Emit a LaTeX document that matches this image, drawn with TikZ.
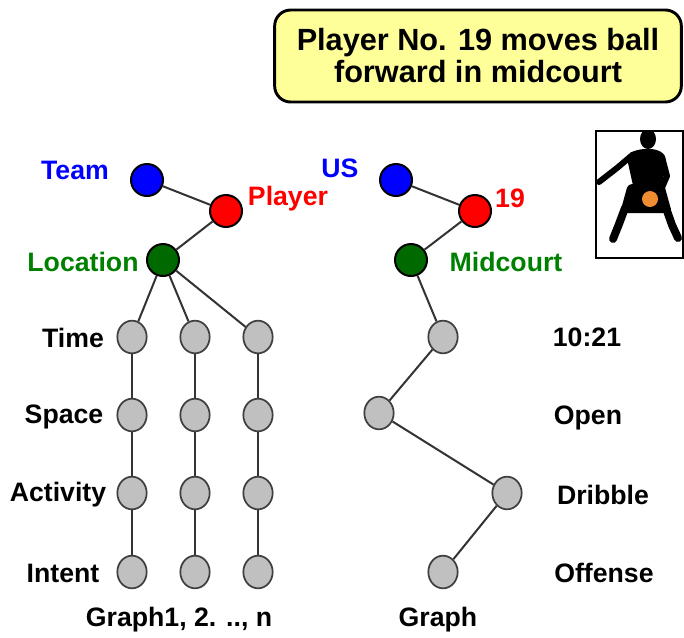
\documentclass[tikz,border=0pt]{standalone}
\usepackage{xcolor}
\usepackage{fontspec}
\setmainfont{Liberation Sans}
\usepackage{tikz}
\usetikzlibrary{positioning, shapes.geometric}

\definecolor{teamblue}{RGB}{0,0,255}
\definecolor{playerred}{RGB}{255,0,0}
\definecolor{locgreen}{RGB}{0,105,0}
\definecolor{loctext}{RGB}{0,128,0}
\definecolor{stategray}{RGB}{192,192,192}
\definecolor{notefill}{RGB}{255,255,153}
\definecolor{ballorange}{RGB}{240,140,50}

\begin{document}
\begin{tikzpicture}[
    x=0.75pt, y=-0.75pt,
    dot/.style={circle, draw=black, line width=1.5pt, minimum size=24pt, inner sep=0pt},
    teamdot/.style={dot, fill=teamblue},
    playerdot/.style={dot, fill=playerred},
    locdot/.style={dot, fill=locgreen},
    state/.style={ellipse, draw=black!75, line width=1.3pt, fill=stategray, minimum width=22pt, minimum height=24.5pt, inner sep=0pt},
    link/.style={draw=black!80, line width=1.5pt},
    lbl/.style={font=\bfseries\fontsize{20}{24}\selectfont, inner sep=0pt},
    note/.style={rectangle, draw=black, line width=2.2pt, rounded corners=12pt, fill=notefill, align=center, font=\bfseries\fontsize{23}{24}\selectfont},
    limb/.style={black, line cap=round, line join=round}
]
\useasboundingbox (0,0) rectangle (684,637);

% caption box
\node[note, minimum width=305pt, minimum height=69pt] (caption) at (478,56) {Player No. 19 moves ball\\forward in midcourt};

% generic graph (left)
\node[teamdot] (teamL) at (147,180) {};
\node[playerdot] (playerL) at (226,211) {};
\node[locdot] (locL) at (163,260) {};
\foreach \c/\x in {1/132,2/195,3/258}
  \foreach \r/\y in {t/337,s/415,a/493,i/572}
    \node[state] (g\c\r) at (\x,\y) {};

\draw[link] (teamL) -- (playerL);
\draw[link] (playerL) -- (locL);
\foreach \c in {1,2,3} {
  \draw[link] (locL) -- (g\c t);
  \draw[link] (g\c t) -- (g\c s);
  \draw[link] (g\c s) -- (g\c a);
  \draw[link] (g\c a) -- (g\c i);
}

\node[lbl, teamblue] (lteam) at (75,170) {Team};
\node[lbl, playerred] (lplayer) at (288,199) {Player};
\node[lbl, loctext] (lloc) at (83,262) {Location};
\node[lbl] (ltime) at (73,338) {Time};
\node[lbl] (lspace) at (64,417) {Space};
\node[lbl] (lact) at (58,495) {Activity};
\node[lbl] (lintent) at (63,573) {Intent};
\node[lbl] (lgraphs) at (179,620) {Graph1, 2. .., n};

% instance graph (right)
\node[teamdot] (usR) at (396,180) {};
\node[playerdot] (numR) at (475,211) {};
\node[locdot] (midR) at (411,260) {};
\node[state] (timeR) at (443,337) {};
\node[state] (spaceR) at (379,413) {};
\node[state] (actR) at (507,493) {};
\node[state] (intR) at (443,572) {};

\draw[link] (usR) -- (numR);
\draw[link] (numR) -- (midR);
\draw[link] (midR) -- (timeR);
\draw[link] (timeR) -- (spaceR);
\draw[link] (spaceR) -- (actR);
\draw[link] (actR) -- (intR);

\node[lbl, teamblue] (lus) at (340,168) {US};
\node[lbl, playerred] (lnum) at (510,198) {19};
\node[lbl, loctext] (lmid) at (506,262) {Midcourt};
\node[lbl] (vtime) at (587,337) {10:21};
\node[lbl] (vspace) at (588,418) {Open};
\node[lbl] (vact) at (603,495) {Dribble};
\node[lbl] (vintent) at (604,573) {Offense};
\node[lbl] (lgraph) at (438,620) {Graph};

% dribbling player icon
\begin{scope}
  \clip (596,131) rectangle (683,258);
  \fill[black] (648,139) ellipse (8 and 10);
  \fill[limb, rounded corners=4pt] (626,154) -- (640,149) -- (656,149) -- (666,155)
      -- (664,176) -- (660,190) -- (634,190) -- (630,172) -- cycle;
  \fill[limb, rounded corners=3pt] (628,184) -- (664,184) -- (672,213) -- (620,213) -- cycle;
  \draw[limb, line width=4.5pt] (630,157) -- (617,168) -- (599,182);
  \draw[limb, line width=4.5pt] (662,157) -- (667,176) -- (661,190);
  \draw[limb, line width=6pt] (625,208) -- (619,224) -- (613,239);
  \draw[limb, line width=6pt] (666,208) -- (672,225) -- (678,238);
  \fill[ballorange] (650,199) circle (8);
\end{scope}
\draw[black, line width=1.6pt] (596,131) rectangle (683,258);
\end{tikzpicture}
\end{document}
